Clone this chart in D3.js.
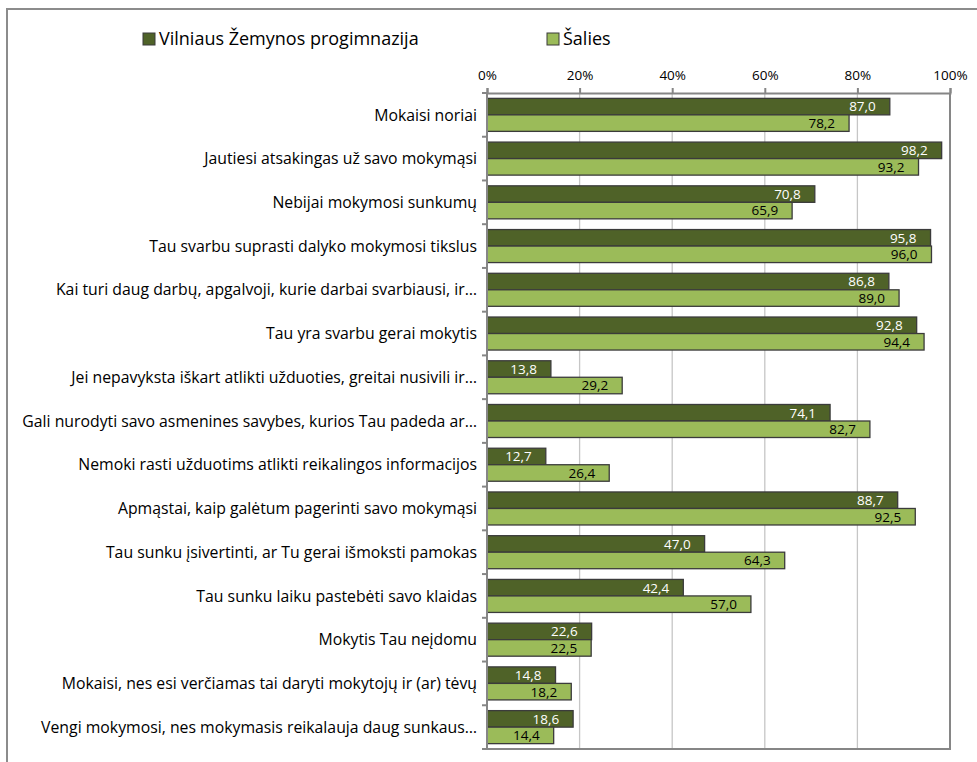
<!DOCTYPE html>
<html>
<head>
<meta charset="utf-8">
<script src="https://cdn.jsdelivr.net/npm/d3@7"></script>
<style>
  html, body { margin: 0; padding: 0; background: #fff; }
  svg { display: block; }
  text { font-family: "Open Sans", Lato, sans-serif; }
</style>
</head>
<body>
<svg id="chart" width="977" height="762"></svg>
<script>
const categories = [
  "Mokaisi noriai",
  "Jautiesi atsakingas už savo mokymąsi",
  "Nebijai mokymosi sunkumų",
  "Tau svarbu suprasti dalyko mokymosi tikslus",
  "Kai turi daug darbų, apgalvoji, kurie darbai svarbiausi, ir…",
  "Tau yra svarbu gerai mokytis",
  "Jei nepavyksta iškart atlikti užduoties, greitai nusivili ir…",
  "Gali nurodyti savo asmenines savybes, kurios Tau padeda ar…",
  "Nemoki rasti užduotims atlikti reikalingos informacijos",
  "Apmąstai, kaip galėtum pagerinti savo mokymąsi",
  "Tau sunku įsivertinti, ar Tu gerai išmoksti pamokas",
  "Tau sunku laiku pastebėti savo klaidas",
  "Mokytis Tau neįdomu",
  "Mokaisi, nes esi verčiamas tai daryti mokytojų ir (ar) tėvų",
  "Vengi mokymosi, nes mokymasis reikalauja daug sunkaus…"
];
const schoolValues = [87.0, 98.2, 70.8, 95.8, 86.8, 92.8, 13.8, 74.1, 12.7, 88.7, 47.0, 42.4, 22.6, 14.8, 18.6];
const countryValues = [78.2, 93.2, 65.9, 96.0, 89.0, 94.4, 29.2, 82.7, 26.4, 92.5, 64.3, 57.0, 22.5, 18.2, 14.4];
const seriesNames = ["Vilniaus Žemynos progimnazija", "Šalies"];
const tickValues = [0, 20, 40, 60, 80, 100];

const colors = ["#4f6228", "#9bbb59"];
const svg = d3.select("#chart");

// outer chart border (cropped on right/bottom)
svg.append("path")
  .attr("d", "M7,770 L7,9 L990,9")
  .attr("fill", "none").attr("stroke", "#8c8c8c").attr("stroke-width", 2);

const pLeft = 487, pRight = 950, pTop = 93, pBottom = 749;
const x = d3.scaleLinear().domain([0, 100]).range([pLeft, pRight]);
const y = d3.scaleBand().domain(categories).range([pTop, pBottom]).paddingInner(0.245).paddingOuter(0.1225);
const ySub = d3.scaleBand().domain([0, 1]).range([0, y.bandwidth()]);

// gridlines
svg.append("g").selectAll("line").data(tickValues.filter(t => t > 0 && t < 100)).join("line")
  .attr("x1", d => x(d)).attr("x2", d => x(d))
  .attr("y1", pTop).attr("y2", pBottom)
  .attr("stroke", "#c6c6c6").attr("stroke-width", 1.3);

// plot frame right & bottom
svg.append("path")
  .attr("d", `M${pLeft},${pBottom} L${pRight},${pBottom} L${pRight},${pTop}`)
  .attr("fill", "none").attr("stroke", "#868686").attr("stroke-width", 2);

// top axis
const xAxis = d3.axisTop(x).tickValues(tickValues).tickFormat(d => d + "%").tickSize(5).tickPadding(8);
const gx = svg.append("g").attr("transform", `translate(0,${pTop})`).call(xAxis);
gx.select(".domain").attr("stroke", "#868686").attr("stroke-width", 2);
gx.selectAll(".tick line").attr("stroke", "#868686").attr("stroke-width", 2);
gx.selectAll(".tick text").attr("font-size", 13.5).attr("fill", "#000")
  .attr("font-family", "'Open Sans', Lato, sans-serif");

// left category axis ticks
const catTicks = d3.range(categories.length + 1).map(i => pTop + i * (pBottom - pTop) / categories.length);
svg.append("g").selectAll("line").data(catTicks).join("line")
  .attr("x1", pLeft - 5).attr("x2", pLeft).attr("y1", d => d).attr("y2", d => d)
  .attr("stroke", "#868686").attr("stroke-width", 2);

// bars
const groups = svg.append("g").selectAll("g").data(categories).join("g")
  .attr("transform", d => `translate(0,${y(d)})`);

[schoolValues, countryValues].forEach((vals, s) => {
  groups.append("rect")
    .attr("x", pLeft)
    .attr("y", ySub(s))
    .attr("width", (d, i) => x(vals[i]) - pLeft)
    .attr("height", ySub.bandwidth())
    .attr("fill", colors[s])
    .attr("stroke", "#3b3b3b").attr("stroke-width", 1.3);
  groups.append("text")
    .attr("x", (d, i) => x(vals[i]) - 14)
    .attr("y", ySub(s) + ySub.bandwidth() / 2)
    .attr("dy", "0.36em")
    .attr("text-anchor", "end")
    .attr("font-size", 13.5)
    .attr("fill", s === 0 ? "#ffffff" : "#000000")
    .text((d, i) => vals[i].toFixed(1).replace(".", ","));
});

// left axis line
svg.append("line").attr("x1", pLeft).attr("x2", pLeft).attr("y1", pTop).attr("y2", pBottom)
  .attr("stroke", "#868686").attr("stroke-width", 2);

// category labels
svg.append("g").selectAll("text").data(categories).join("text")
  .attr("x", 477)
  .attr("y", d => y(d) + y.bandwidth() / 2)
  .attr("dy", "0.36em")
  .attr("text-anchor", "end")
  .attr("font-size", 15.8)
  .attr("fill", "#000")
  .text(d => d);

// legend
const legendX = [143, 547];
const lg = svg.append("g").selectAll("g").data(seriesNames).join("g")
  .attr("transform", (d, i) => `translate(${legendX[i]},33)`);
lg.append("rect").attr("width", 12).attr("height", 12)
  .attr("fill", (d, i) => colors[i]).attr("stroke", "#3b3b3b").attr("stroke-width", 1);
lg.append("text").attr("x", 16).attr("y", 6).attr("dy", "0.36em")
  .attr("font-size", 18).attr("fill", "#000").text(d => d);
</script>
</body>
</html>
